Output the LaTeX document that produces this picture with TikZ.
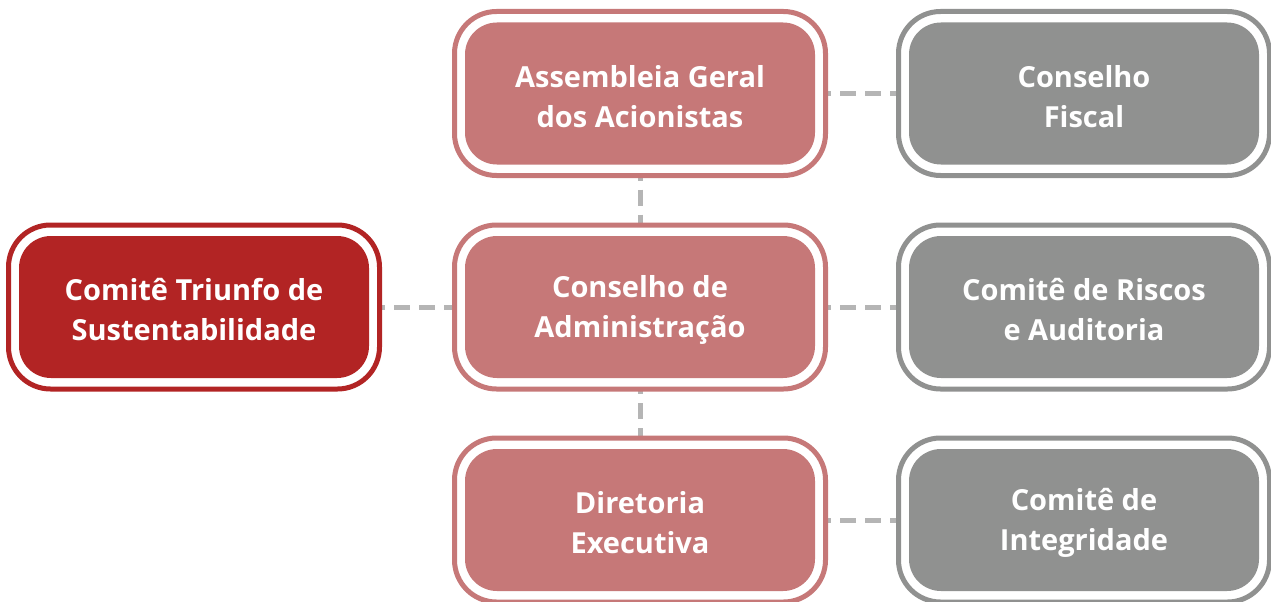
\documentclass[tikz,border=0pt]{standalone}
\usepackage{fontspec}
\setmainfont{Open Sans}
\usetikzlibrary{backgrounds}
\definecolor{pinkc}{HTML}{C67878}
\definecolor{redc}{HTML}{B22424}
\definecolor{grayc}{HTML}{909190}
\definecolor{linec}{HTML}{B5B5B5}
\tikzset{
  outerbox/.style={draw, line width=5pt, fill=white, rounded corners=42pt,
    minimum width=371pt, minimum height=164pt, inner sep=0pt},
  innerbox/.style={rounded corners=32pt, minimum width=350pt, minimum height=142pt,
    inner sep=0pt, text=white, align=center,
    font=\fontsize{29}{40}\selectfont\bfseries},
  link/.style={draw=linec, line width=5pt, dash pattern=on 16pt off 9pt}
}
\newcommand\orgbox[5]{%
  \node[outerbox, draw=#4] (#1o) at (#2,#3) {};
  \node[innerbox, fill=#4] (#1) at (#2,#3) {};
  \node[innerbox, yshift=-3pt] (#1t) at (#2,#3) {#5};
}
\begin{document}
\begin{tikzpicture}[x=1pt,y=-1pt]
\useasboundingbox (0,0) rectangle (1271,602);
\orgbox{ag}{640}{93.5}{pinkc}{Assembleia Geral\\dos Acionistas}
\orgbox{cf}{1084}{93.5}{grayc}{Conselho\\Fiscal}
\orgbox{ct}{194}{307}{redc}{Comitê Triunfo de\\Sustentabilidade}
\orgbox{ca}{640}{307}{pinkc}{Conselho de\\Administração}
\orgbox{cr}{1084}{307}{grayc}{Comitê de Riscos\\e Auditoria}
\orgbox{de}{640}{520}{pinkc}{Diretoria\\Executiva}
\orgbox{ci}{1084}{520}{grayc}{Comitê de\\Integridade}
\begin{pgfonlayer}{background}
\path[link] (ag) -- (cf);
\path[link] (ag) -- (ca);
\path[link] (ca) -- (de);
\path[link] (ct) -- (ca);
\path[link] (ca) -- (cr);
\path[link] (de) -- (ci);
\end{pgfonlayer}
\end{tikzpicture}
\end{document}
